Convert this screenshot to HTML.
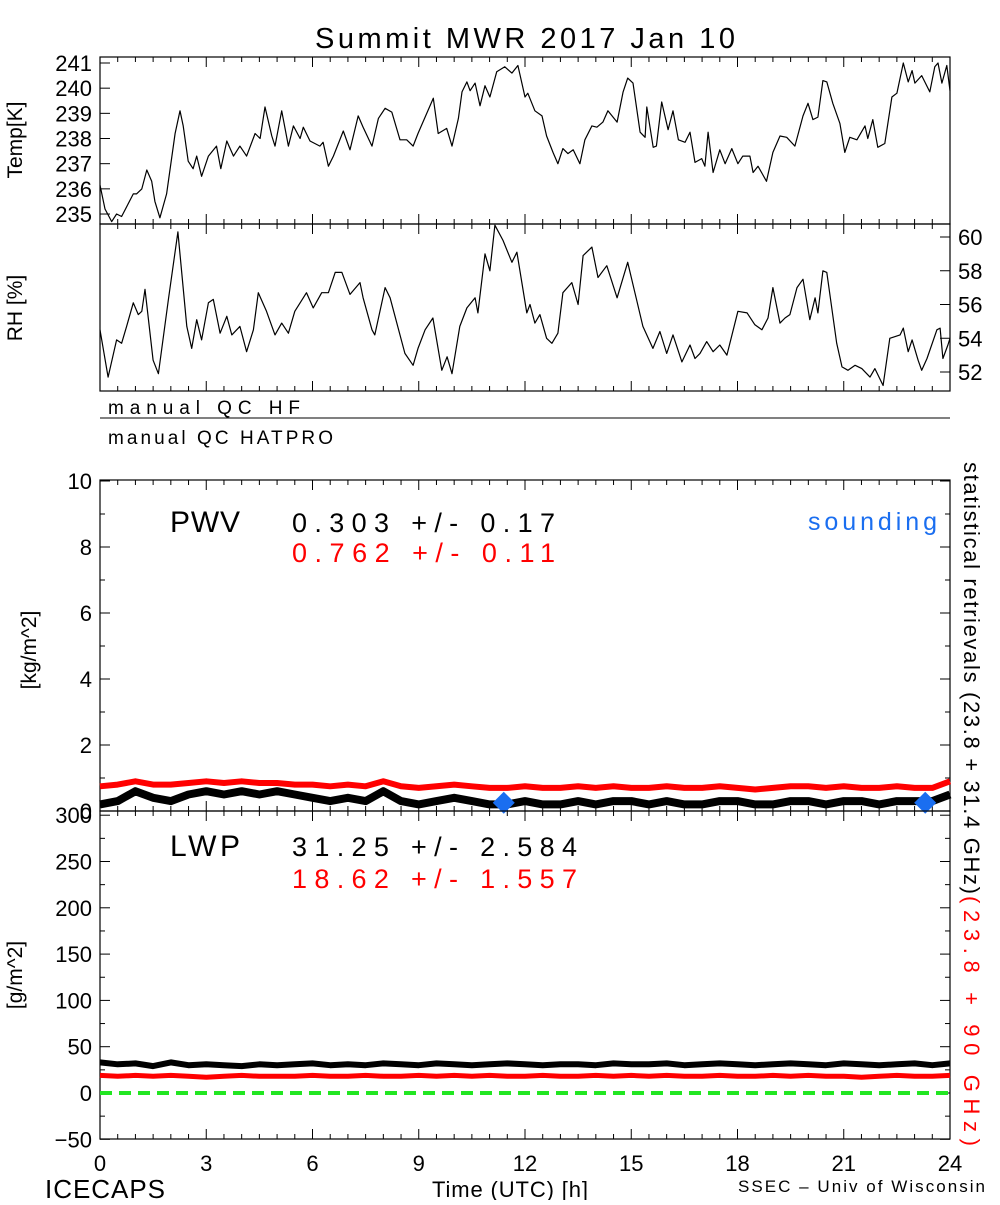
<!DOCTYPE html>
<html><head><meta charset="utf-8"><style>
body{margin:0;background:#fff}
svg text{font-family:"Liberation Sans",sans-serif}
</style></head><body>
<svg id="c" width="1000" height="1200" viewBox="0 0 1000 1200" xmlns="http://www.w3.org/2000/svg"></svg>
<script>
const tTimes=[0,0.14,0.33,0.47,0.61,0.94,1.03,1.18,1.32,1.46,1.55,1.69,1.88,2.12,2.26,2.35,2.49,2.63,2.73,2.87,3.06,3.29,3.41,3.58,3.77,3.95,4.14,4.38,4.52,4.66,4.85,4.94,5.13,5.32,5.46,5.65,5.74,5.93,6.21,6.3,6.45,6.59,6.87,7.06,7.29,7.43,7.68,7.86,8.05,8.24,8.47,8.66,8.84,8.98,9.18,9.41,9.55,9.79,9.94,10.12,10.22,10.36,10.45,10.59,10.73,10.87,11.01,11.2,11.43,11.63,11.8,12.0,12.08,12.28,12.48,12.61,12.79,12.93,13.07,13.21,13.36,13.55,13.69,13.89,14.03,14.2,14.34,14.6,14.77,14.9,15.05,15.25,15.39,15.44,15.62,15.71,15.86,16.04,16.18,16.33,16.52,16.66,16.8,16.99,17.08,17.17,17.31,17.5,17.65,17.84,18.01,18.15,18.35,18.44,18.58,18.82,19.0,19.2,19.39,19.62,19.85,19.99,20.13,20.27,20.41,20.52,20.69,20.89,21.03,21.17,21.37,21.6,21.68,21.82,21.96,22.16,22.36,22.5,22.68,22.82,22.93,23.01,23.2,23.43,23.57,23.66,23.77,23.91,24];
const tempVals=[236.15,235.2,234.7,235.0,234.9,235.8,235.8,236.0,236.75,236.3,235.5,234.85,235.8,238.2,239.1,238.5,237.1,236.8,237.3,236.5,237.3,237.7,236.8,237.9,237.3,237.7,237.3,238.2,238.0,239.25,238.1,237.7,239.1,237.7,238.5,238.0,238.45,237.9,237.7,237.85,236.9,237.3,238.3,237.55,238.9,238.45,237.7,238.8,239.2,239.05,237.95,237.95,237.7,238.2,238.85,239.6,238.2,238.4,237.7,238.8,239.85,240.25,239.9,240.2,239.3,240.1,239.65,240.65,240.85,240.6,240.9,239.65,239.8,239.1,238.9,238.1,237.45,237.0,237.6,237.4,237.55,237.0,237.95,238.5,238.45,238.65,239.1,238.65,239.85,240.4,240.2,238.25,238.05,239.25,237.65,237.7,239.45,238.35,239.1,237.95,237.85,238.25,237.05,237.2,236.9,238.25,236.65,237.55,237.0,237.6,237.0,237.3,237.3,236.65,236.9,236.3,237.45,238.1,238.05,237.7,238.9,239.4,238.75,238.85,240.3,240.25,239.4,238.6,237.45,238.05,237.95,238.5,238.0,238.75,237.65,237.8,239.65,239.8,241.0,240.25,240.7,240.2,240.5,239.85,240.85,241.0,240.2,240.9,239.9];
const rhTimes=[0,0.23,0.47,0.61,0.75,0.94,1.08,1.18,1.27,1.5,1.65,1.93,2.2,2.45,2.59,2.73,2.87,3.06,3.2,3.39,3.58,3.72,3.95,4.14,4.33,4.47,4.7,4.94,5.13,5.32,5.5,5.83,6.02,6.26,6.45,6.64,6.83,7.06,7.34,7.43,7.68,7.76,8.05,8.19,8.61,8.84,8.98,9.18,9.4,9.65,9.8,9.94,10.16,10.36,10.59,10.67,10.87,11.01,11.15,11.38,11.63,11.77,12.05,12.14,12.28,12.42,12.61,12.76,12.93,13.07,13.32,13.5,13.64,13.89,14.06,14.31,14.6,14.9,15.33,15.61,15.81,16.0,16.18,16.43,16.66,16.8,16.94,17.13,17.31,17.5,17.7,18.01,18.27,18.49,18.69,18.86,19.0,19.2,19.34,19.48,19.68,19.85,20.04,20.19,20.27,20.41,20.52,20.8,20.95,21.12,21.32,21.51,21.74,21.88,22.11,22.3,22.59,22.68,22.82,22.93,23.1,23.2,23.35,23.63,23.72,23.8,23.94,24];
const rhVals=[54.5,51.7,53.9,53.7,54.7,56.1,55.4,55.6,56.9,52.7,51.9,56.3,60.3,54.7,53.4,55.1,53.9,56.1,56.3,54.3,55.3,54.2,54.7,53.2,54.5,56.7,55.6,54.2,54.9,54.3,55.6,56.7,55.8,56.7,56.7,57.9,57.9,56.6,57.3,56.4,54.5,54.2,57.0,56.4,53.1,52.4,53.4,54.5,55.2,52.1,52.9,51.9,54.7,55.8,56.4,55.5,59.0,58.0,60.7,59.8,58.5,59.1,55.5,56.0,54.9,55.4,54.0,53.7,54.3,56.7,57.3,56.0,58.9,59.4,57.6,58.3,56.4,58.5,54.7,53.4,54.4,53.1,54.2,52.6,53.6,52.8,53.1,53.8,53.2,53.6,53.0,55.6,55.5,54.8,54.5,55.2,57.0,54.9,55.2,55.4,57.0,57.5,55.1,56.4,55.5,58.0,57.9,53.7,52.3,52.1,52.4,52.2,51.7,52.2,51.2,54.0,54.2,54.6,53.2,53.9,52.7,52.1,52.8,54.5,54.6,52.8,53.6,54.0];
const pTimes=[0,0.5,1,1.5,2,2.5,3,3.5,4,4.5,5,5.5,6,6.5,7,7.5,8,8.5,9,9.5,10,10.5,11,11.5,12,12.5,13,13.5,14,14.5,15,15.5,16,16.5,17,17.5,18,18.5,19,19.5,20,20.5,21,21.5,22,22.5,23,23.5,24];
const pwvBlack=[0.2,0.3,0.6,0.4,0.3,0.5,0.6,0.5,0.6,0.5,0.6,0.5,0.4,0.3,0.4,0.3,0.6,0.3,0.2,0.3,0.4,0.3,0.2,0.2,0.3,0.2,0.2,0.3,0.2,0.3,0.3,0.2,0.3,0.2,0.2,0.3,0.3,0.2,0.2,0.3,0.3,0.2,0.3,0.3,0.2,0.3,0.3,0.3,0.5];
const pwvRed=[0.75,0.8,0.9,0.8,0.8,0.85,0.9,0.85,0.9,0.85,0.85,0.8,0.8,0.75,0.8,0.75,0.9,0.75,0.7,0.75,0.8,0.75,0.7,0.7,0.75,0.7,0.7,0.75,0.7,0.75,0.7,0.7,0.75,0.7,0.7,0.75,0.7,0.65,0.7,0.75,0.75,0.7,0.75,0.7,0.7,0.75,0.7,0.7,0.9];
const lwpBlack=[33,31,32,29,33,30,31,30,29,31,30,31,32,30,31,30,32,31,30,32,31,30,31,32,31,30,31,31,30,32,31,31,32,30,31,32,31,30,31,32,31,30,32,31,30,31,32,30,32];
const lwpRed=[19,18,19,18,19,18,17,18,19,18,18,18,19,18,18,19,18,18,19,18,19,18,19,18,18,19,18,18,19,18,19,18,19,18,18,19,18,18,19,18,19,18,18,17,18,19,18,18,19];
const soundT=[11.4,23.3];
const soundV=[0.25,0.25];
const tempTicks=[235,236,237,238,239,240,241];
const rhTicks=[52,54,56,58,60];
const pwvTicks=[0,2,4,6,8,10];
const lwpTicks=[-50,0,50,100,150,200,250,300];
const xTicks=[0,3,6,9,12,15,18,21,24];

const S=document.getElementById('c'),NS='http://www.w3.org/2000/svg';
function el(tag,a,txt){const e=document.createElementNS(NS,tag);for(const k in a)e.setAttribute(k,a[k]);if(txt!==undefined)e.textContent=txt;S.appendChild(e);return e;}
const X0=100,X1=950;const xs=t=>X0+(X1-X0)*t/24;
const yTemp=v=>63+(241-v)*25.17;
const yRH=v=>237+(60-v)*16.875;
const yPWV=v=>811-v*33;
const yLWP=v=>1093-v*0.926;
function box(top,bot,name){const r=el('rect',{x:X0,y:top,width:X1-X0,height:bot-top,fill:'none',stroke:'#000','stroke-width':1.2});

for(let h=0;h<=24;h+=0.5){const x=xs(h),L=(h%3===0)?10:5;
el('line',{x1:x,x2:x,y1:bot,y2:bot-L,stroke:'#000'});el('line',{x1:x,x2:x,y1:top,y2:top+L,stroke:'#000'});}}
function path(ts,vs,fy,color,w,name,dash){let d='';ts.forEach((t,i)=>{d+=(i?'L':'M')+xs(t).toFixed(1)+' '+fy(vs[i]).toFixed(1);});
const p=el('path',{d:d,fill:'none',stroke:color,'stroke-width':w,'stroke-linejoin':'round'});if(dash)p.setAttribute('stroke-dasharray',dash);
return p;}
function ytick(v,fy,side,name){const y=fy(v);const x=side==='l'?X0:X1;const d=side==='l'?10:-10;
el('line',{x1:x,x2:x+d,y1:y,y2:y,stroke:'#000'});
const t=el('text',{x:side==='l'?X0-8:X1+8,y:y+8,'font-size':22,'text-anchor':side==='l'?'end':'start'},String(v).replace('-','−'));
}
function txt(x,y,s,size,name,len,fill,anchor){const a={x:x,y:y,'font-size':size};if(len){a.textLength=len;a.lengthAdjust='spacing';}if(fill)a.fill=fill;if(anchor)a['text-anchor']=anchor;
const t=el('text',a,s);return t;}

txt(315,48,'Summit MWR 2017 Jan 10',29,'chart-title',420);

box(57,224,'temp-panel');
tempTicks.forEach(v=>ytick(v,yTemp,'l','temp-tick-label'));
path(tTimes,tempVals,yTemp,'#000',1.2,'temp-line');
let yl=el('text',{x:0,y:0,'font-size':21,'text-anchor':'middle',transform:'translate(22,140) rotate(-90)'},'Temp[K]');


box(224,391,'rh-panel');
rhTicks.forEach(v=>ytick(v,yRH,'r','rh-tick-label'));
path(rhTimes,rhVals,yRH,'#000',1.2,'rh-line');
yl=el('text',{x:0,y:0,'font-size':21,'text-anchor':'middle',transform:'translate(22,308) rotate(-90)'},'RH [%]');


el('line',{x1:X0,x2:X1,y1:418,y2:418,stroke:'#000'});
txt(108,414,'manual QC HF',19,'qc-hf-label',192);
txt(108,444,'manual QC HATPRO',19,'qc-hatpro-label',225);

box(480,811,'pwv-panel');
pwvTicks.forEach(v=>ytick(v,yPWV,'l','pwv-tick-label'));
for(let v=1;v<10;v+=2){el('line',{x1:X0,x2:X0+5,y1:yPWV(v),y2:yPWV(v),stroke:'#000'});el('line',{x1:X1,x2:X1-5,y1:yPWV(v),y2:yPWV(v),stroke:'#000'});}
pwvTicks.forEach(v=>el('line',{x1:X1,x2:X1-10,y1:yPWV(v),y2:yPWV(v),stroke:'#000'}));
path(pTimes,pwvRed,yPWV,'#f00',6,'pwv-red-series');
path(pTimes,pwvBlack,yPWV,'#000',8,'pwv-black-series');
soundT.forEach((t,i)=>{const x=xs(t),y=yPWV(soundV[i]);const d=el('polygon',{points:`${x},${y-11} ${x+11},${y} ${x},${y+11} ${x-11},${y}`,fill:'#1a6ef0'});
});
yl=el('text',{x:0,y:0,'font-size':21,'text-anchor':'middle',transform:'translate(36,650) rotate(-90)'},'[kg/m^2]');

txt(170,532,'PWV',30,'pwv-label',70);
txt(292,532,'0.303 +/-  0.17',27,'pwv-black-stat',263);
txt(292,562,'0.762 +/-  0.11',27,'pwv-red-stat',263,'#f00');
txt(808,530,'sounding',25,'sounding-legend',129,'#1a6ef0');

box(811,1139,'lwp-panel');
lwpTicks.forEach(v=>ytick(v,yLWP,'l','lwp-tick-label'));
for(let v=-25;v<300;v+=25){if(v%50){el('line',{x1:X0,x2:X0+5,y1:yLWP(v),y2:yLWP(v),stroke:'#000'});el('line',{x1:X1,x2:X1-5,y1:yLWP(v),y2:yLWP(v),stroke:'#000'});}}
lwpTicks.forEach(v=>el('line',{x1:X1,x2:X1-10,y1:yLWP(v),y2:yLWP(v),stroke:'#000'}));
path([0,24],[0,0],yLWP,'#22e622',4,'zero-line','12 7');
path(pTimes,lwpRed,yLWP,'#f00',5,'lwp-red-series');
path(pTimes,lwpBlack,yLWP,'#000',6,'lwp-black-series');
yl=el('text',{x:0,y:0,'font-size':21,'text-anchor':'middle',transform:'translate(22,975) rotate(-90)'},'[g/m^2]');

txt(170,856,'LWP',30,'lwp-label',70);
txt(292,856,'31.25 +/-  2.584',27,'lwp-black-stat',285);
txt(292,888,'18.62 +/-  1.557',27,'lwp-red-stat',285,'#f00');

xTicks.forEach(v=>{const e=el('text',{x:xs(v),y:1171,'font-size':22,'text-anchor':'middle'},String(v));});
txt(432,1197,'Time (UTC) [h]',22,'x-axis-title',156);
txt(45,1198,'ICECAPS',26,'icecaps-label',120);
txt(738,1192,'SSEC – Univ of Wisconsin',17,'ssec-credit',247);

let g=el('text',{x:0,y:0,'font-size':22,textLength:432,lengthAdjust:'spacing',transform:'translate(964,462) rotate(90)'},'statistical retrievals (23.8 + 31.4 GHz)');

g=el('text',{x:0,y:0,'font-size':22,fill:'#f00',textLength:250,lengthAdjust:'spacing',transform:'translate(964,896) rotate(90)'},'(23.8 + 90 GHz)');

</script>
</body></html>
